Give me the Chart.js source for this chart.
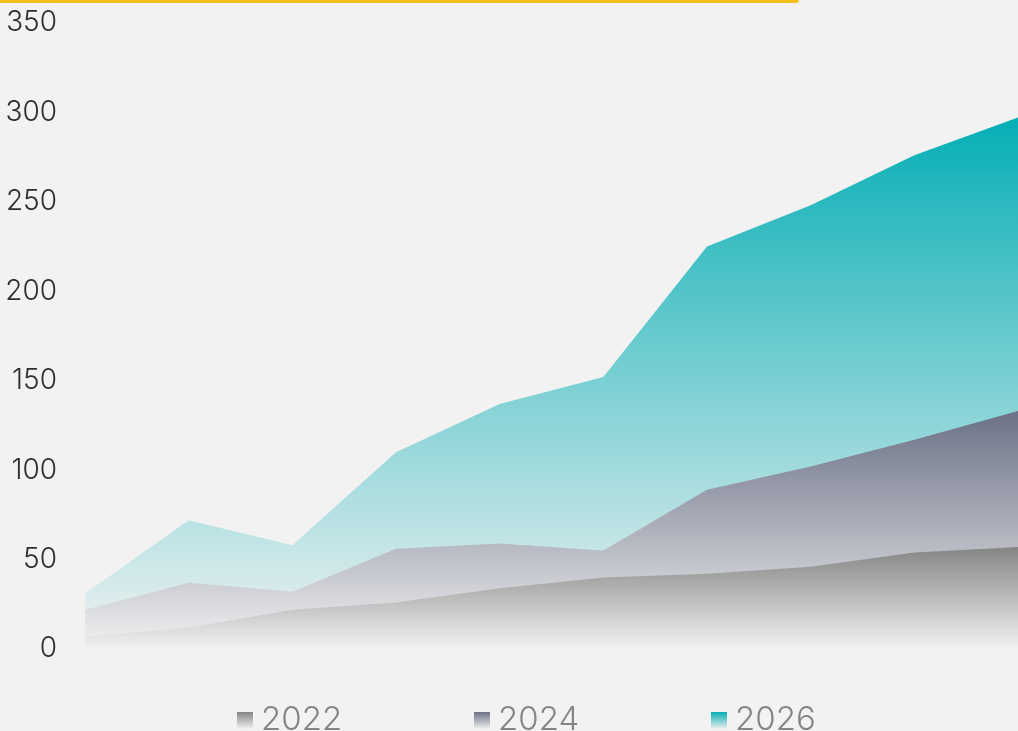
<!DOCTYPE html>
<html lang="en">
<head>
  <meta charset="UTF-8">
  <title>Area chart</title>
  <script src="https://cdn.jsdelivr.net/npm/chart.js"></script>
  <style>
    html, body {
      margin: 0;
      padding: 0;
      background: #f2f2f2;
      overflow: hidden;
    }
    .chart-box {
      position: relative;
      width: 1018px;
      height: 731px;
    }
    .legend {
      position: absolute;
      left: 237px;
      top: 698px;
      display: flex;
      font-family: 'Inter', sans-serif;
      font-weight: 300;
      font-size: 33px;
      color: #858585;
    }
    .legend-item {
      width: 237px;
      display: flex;
      align-items: center;
      line-height: 40px;
    }
    .swatch {
      width: 16px;
      height: 17px;
      margin-right: 8px;
      margin-top: 4px;
    }
  </style>
</head>
<body>
  <div class="chart-box">
    <canvas id="areaChart" width="1018" height="731"></canvas>
    <div class="legend" id="legend"></div>
  </div>

  <script>
    const periods = ['1', '2', '3', '4', '5', '6', '7', '8', '9', '10'];
    const seriesNames = ['2022', '2024', '2026'];
    const values2022 = [7, 12, 22, 26, 34, 40, 42, 46, 54, 57];
    const values2024 = [22, 37, 32, 56, 59, 55, 89, 102, 117, 133];
    const values2026 = [31, 72, 58, 110, 137, 152, 225, 248, 276, 297];
    const yTicks = [0, 50, 100, 150, 200, 250, 300, 350];

    const topColors = ['#858585', '#6b7186', '#05aeb5'];
    const bgColor = '#f2f2f2';
    const allValues = [values2022, values2024, values2026];

    function areaGradient(index, values) {
      return function (context) {
        const chart = context.chart;
        const y = chart.scales.y;
        if (!chart.chartArea || !y) return topColors[index];
        const top = y.getPixelForValue(Math.max(...values));
        const bottom = y.getPixelForValue(0);
        const g = chart.ctx.createLinearGradient(0, top, 0, bottom);
        g.addColorStop(0, topColors[index]);
        g.addColorStop(1, bgColor);
        return g;
      };
    }

    // html legend with gradient swatches
    const legendEl = document.getElementById('legend');
    seriesNames.forEach((name, i) => {
      const item = document.createElement('div');
      item.className = 'legend-item';
      const sw = document.createElement('span');
      sw.className = 'swatch';
      sw.style.background = 'linear-gradient(' + topColors[i] + ', #f0f0f0)';
      const txt = document.createElement('span');
      txt.textContent = name;
      item.appendChild(sw);
      item.appendChild(txt);
      legendEl.appendChild(item);
    });

    const pageDecor = {
      id: 'pageDecor',
      beforeDraw(chart) {
        const ctx = chart.ctx;
        ctx.save();
        ctx.fillStyle = bgColor;
        ctx.fillRect(0, 0, chart.width, chart.height);
        ctx.fillStyle = '#f6c11e';
        ctx.beginPath();
        ctx.moveTo(0, 0);
        ctx.lineTo(796, 0);
        ctx.arc(796, 0, 3, 0, Math.PI / 2);
        ctx.lineTo(0, 3);
        ctx.closePath();
        ctx.fill();
        ctx.restore();
      }
    };

    const ctx = document.getElementById('areaChart').getContext('2d');
    new Chart(ctx, {
      type: 'line',
      data: {
        labels: periods,
        datasets: seriesNames.map((name, i) => ({
          label: name,
          data: allValues[i],
          fill: 'origin',
          backgroundColor: areaGradient(i, allValues[i]),
          borderWidth: 0,
          pointRadius: 0,
          tension: 0
        }))
      },
      options: {
        responsive: false,
        animation: false,
        layout: { padding: { top: 0, right: 0, bottom: 82, left: 0 } },
        plugins: {
          tooltip: { enabled: false },
          legend: { display: false }
        },
        scales: {
          x: { display: false },
          y: {
            min: 0,
            max: 350,
            afterBuildTicks: (scale) => { scale.ticks = yTicks.map(v => ({ value: v })); },
            afterFit: (scale) => { scale.width = 85; },
            grid: { display: false },
            border: { display: false },
            ticks: {
              padding: 20,
              color: '#2e2e2e',
              font: { family: 'Inter', size: 28, weight: '300', lineHeight: 0.2 }
            }
          }
        }
      },
      plugins: [pageDecor]
    });
  </script>
</body>
</html>
